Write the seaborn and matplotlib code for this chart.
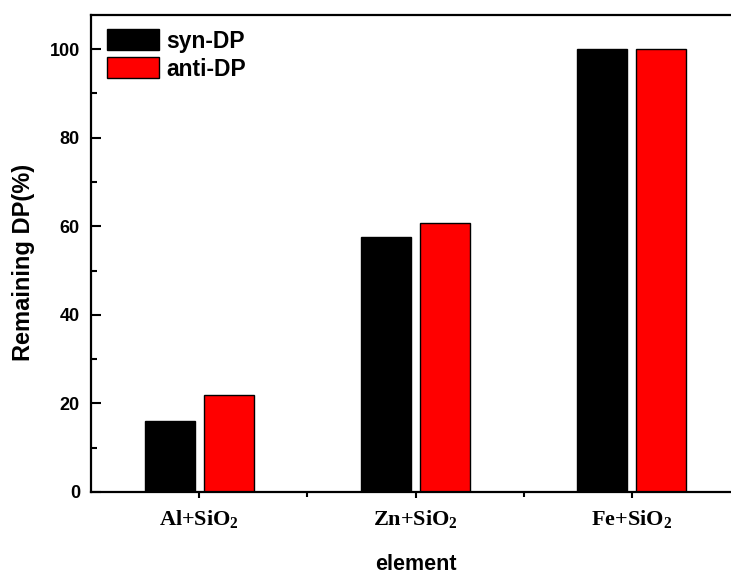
import matplotlib
matplotlib.use("Agg")
import matplotlib.pyplot as plt
import seaborn as sns
import pandas as pd
from matplotlib.ticker import MultipleLocator

categories = ["Al+SiO$_2$", "Zn+SiO$_2$", "Fe+SiO$_2$"]
syn_dp = [16.0, 57.6, 100.0]
anti_dp = [22.0, 60.7, 100.0]
series = ["syn-DP", "anti-DP"]
colors = ["#000000", "#ff0000"]

df = pd.DataFrame({
    "element": categories * 2,
    "value": syn_dp + anti_dp,
    "series": [series[0]] * 3 + [series[1]] * 3,
})

sns.set_style("ticks")
plt.rcParams['font.family'] = ['Liberation Sans', 'DejaVu Sans']
plt.rcParams['text.color'] = 'black'
plt.rcParams['axes.labelcolor'] = 'black'
plt.rcParams['xtick.color'] = 'black'
plt.rcParams['ytick.color'] = 'black'
plt.rcParams['mathtext.fontset'] = 'custom'
plt.rcParams['mathtext.rm'] = 'Liberation Serif:bold'
plt.rcParams['mathtext.it'] = 'Liberation Serif:bold'
plt.rcParams['mathtext.bf'] = 'Liberation Serif:bold'

fig = plt.figure(figsize=(7.31, 5.74), dpi=100)
ax = fig.add_axes([91/731, 1-492/574, (740-91)/731, (492-15)/574])

sns.barplot(data=df, x="element", y="value", hue="series", palette=colors,
            width=0.545, gap=0.156, edgecolor="black", linewidth=1.0,
            saturation=1, ax=ax, errorbar=None)

ax.set_xlim(-0.5, 2.5)
ax.set_ylim(0, 107.7)
ax.yaxis.set_major_locator(MultipleLocator(20))
ax.yaxis.set_minor_locator(MultipleLocator(10))
ax.set_xticks([0.5, 1.5], minor=True)

for s in ax.spines.values():
    s.set_linewidth(1.6)
    s.set_color("black")

ax.tick_params(axis="y", which="major", direction="in", length=7, width=1.5,
               labelsize=13, pad=8)
ax.tick_params(axis="y", which="minor", direction="in", length=4, width=1.5)
ax.tick_params(axis="x", which="major", direction="out", length=4.5, width=1.5, pad=7)
ax.tick_params(axis="x", which="minor", direction="out", length=3.5, width=1.5)

for lbl in ax.get_yticklabels():
    lbl.set_fontweight("bold")
ax.set_xticks([0, 1, 2])
ax.set_xticklabels(categories, fontsize=16, fontweight="bold",
                   family=["Liberation Serif", "DejaVu Serif"])

ax.set_xlabel("element", fontsize=15.5, fontweight="bold", labelpad=17)
ax.set_ylabel("Remaining DP(%)", fontsize=17, fontweight="bold")
ax.yaxis.set_label_coords(-0.087, 0.482)

leg = ax.legend(loc="upper left", frameon=False,
                bbox_to_anchor=(0.010, 0.9895),
                handlelength=2.3, handleheight=1.05, handletextpad=0.3,
                labelspacing=0.2, borderaxespad=0.0,
                prop={"weight": "bold", "size": 16.5})
ax.set_title("")

fig.savefig("out.png", dpi=100)
